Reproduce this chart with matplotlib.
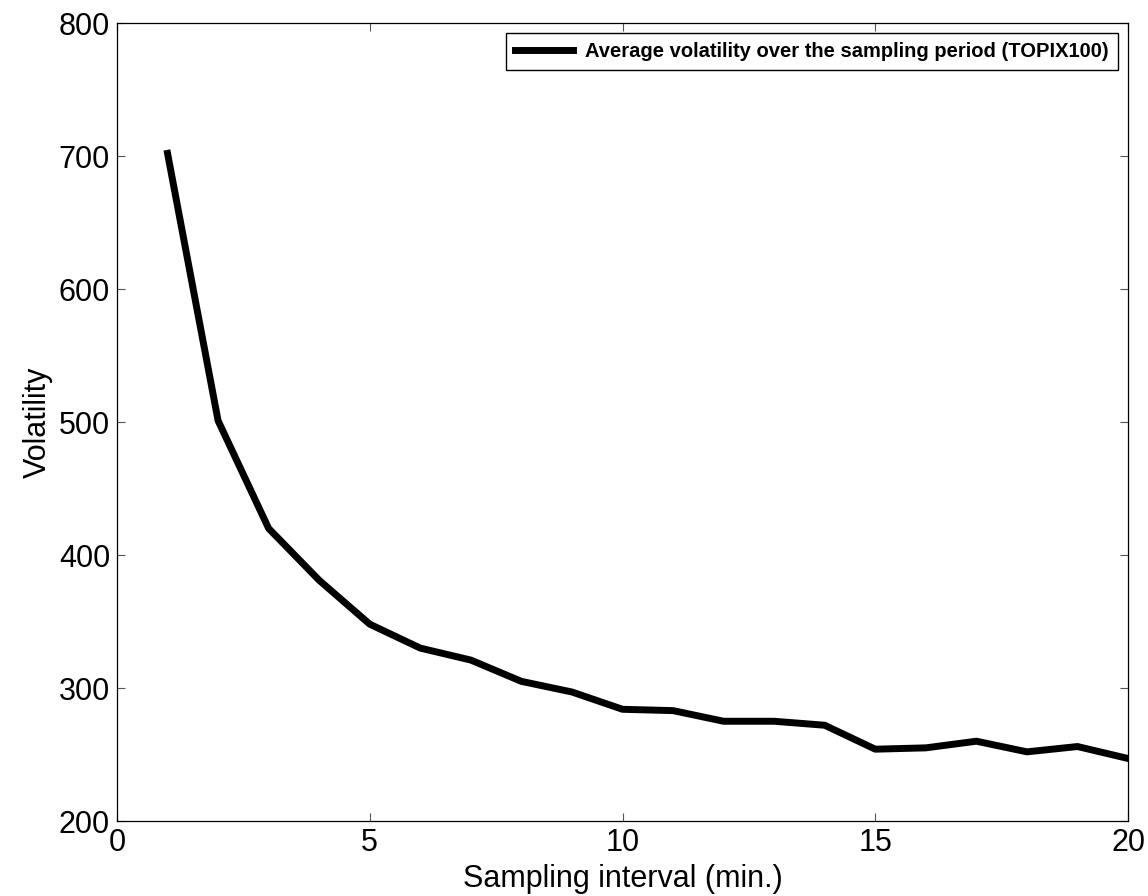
import numpy as np
import matplotlib
matplotlib.use('Agg')
import matplotlib.pyplot as plt

#   Data
interval = [1, 2, 3, 4, 5, 6, 7, 8, 9, 10, 11, 12, 13, 14, 15, 16, 17, 18, 19, 20]
volatility = [702, 501, 420, 381, 348, 330, 321, 305, 297, 284,
              283, 275, 275, 272, 254, 255, 260, 252, 256, 247]
legend_label = 'Average volatility over the sampling period (TOPIX100)'

plt.rcParams['font.family'] = ['Liberation Sans', 'DejaVu Sans']

fig = plt.figure(figsize=(11.48, 8.96), dpi=100)
ax = fig.add_axes([0.1019, 0.0837, 0.8807, 0.8906])

ax.plot(interval, volatility, color='black', linewidth=5, label=legend_label)

ax.set_xlim(0, 20)
ax.set_ylim(200, 800)
ax.set_xticks([0, 5, 10, 15, 20])
ax.set_yticks([200, 300, 400, 500, 600, 700, 800])

ax.tick_params(direction='in', length=6, width=0.8, color='#555555',
               top=True, right=True, labelsize=22, pad=5)
for s in ax.spines.values():
    s.set_linewidth(0.9)

ax.set_xlabel('Sampling interval (min.)', fontsize=22, labelpad=4)
ax.set_ylabel('Volatility', fontsize=22, labelpad=4)

leg = ax.legend(loc='upper right', fontsize=14.5, handlelength=2.9,
                handletextpad=0.6, borderaxespad=0.5, borderpad=0.45,
                fancybox=False, framealpha=1)
leg.get_frame().set_edgecolor('black')
leg.get_frame().set_linewidth(1.0)
for t in leg.get_texts():
    t.set_fontweight('bold')

fig.savefig('out.png', dpi=100)
